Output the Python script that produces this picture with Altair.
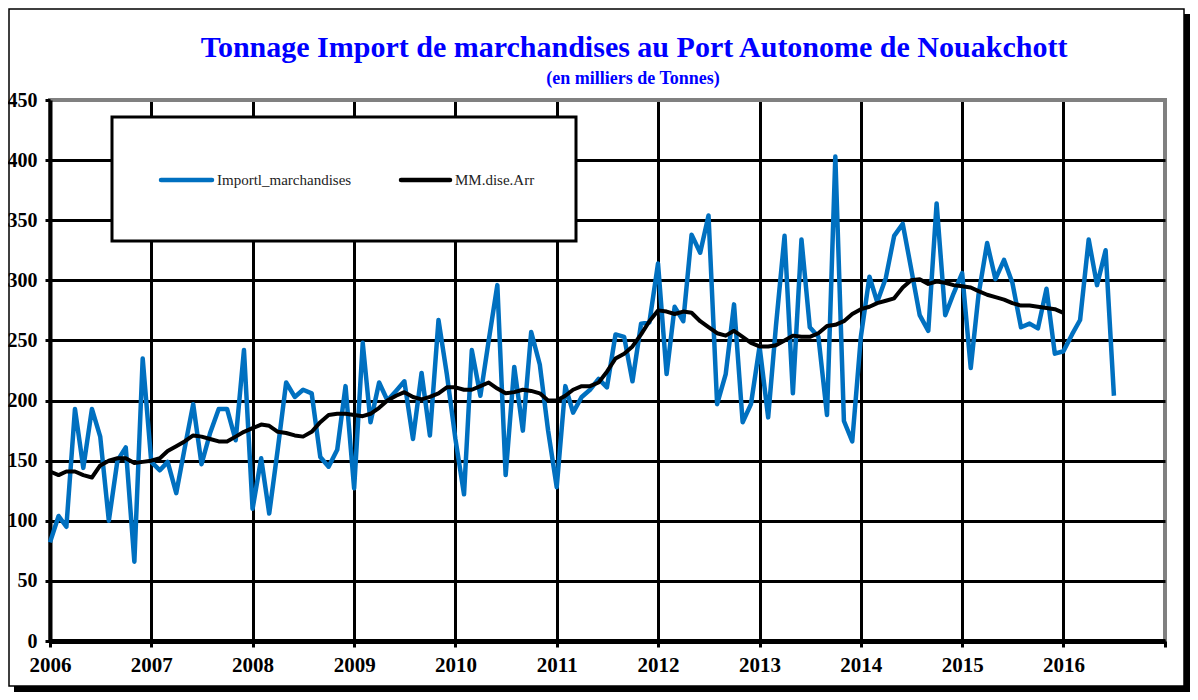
import altair as alt
import pandas as pd

# ---------------- data ----------------
SERIES = ["Importl_marchandises", "MM.dise.Arr"]
COLORS = ["#0070C0", "#000000"]
TITLE = "Tonnage Import de marchandises au Port Autonome de Nouakchott"
SUBTITLE = "(en milliers de Tonnes)"

YEARS = [2006, 2007, 2008, 2009, 2010, 2011, 2012, 2013, 2014, 2015, 2016]
Y_TICKS = [0, 50, 100, 150, 200, 250, 300, 350, 400, 450]

imp_2006 = [82, 104, 95, 193, 144, 193, 170, 100, 150, 161, 66, 235]
imp_2007 = [149, 142, 149, 123, 160, 197, 147, 173, 193, 193, 167, 242]
imp_2008 = [110, 152, 106, 160, 215, 203, 209, 206, 153, 145, 159, 212]
imp_2009 = [127, 248, 182, 215, 200, 208, 216, 168, 223, 171, 267, 222]
imp_2010 = [168, 122, 242, 204, 250, 296, 138, 228, 175, 257, 230, 175]
imp_2011 = [128, 212, 190, 203, 209, 218, 211, 255, 253, 216, 264, 265]
imp_2012 = [314, 222, 278, 266, 338, 323, 354, 197, 222, 280, 182, 197]
imp_2013 = [245, 186, 262, 337, 206, 334, 261, 253, 188, 403, 183, 166]
imp_2014 = [253, 303, 282, 302, 337, 347, 310, 271, 258, 364, 271, 289]
imp_2015 = [306, 227, 288, 331, 301, 317, 298, 261, 264, 260, 293, 239]
imp_2016 = [241, 255, 267, 334, 296, 325, 204]

ma_2006 = [141, 138, 141, 141, 138, 136, 146, 150, 152, 152, 148, 149]
ma_2007 = [150, 152, 158, 162, 166, 171, 170, 168, 166, 166, 170, 174]
ma_2008 = [177, 180, 179, 174, 173, 171, 170, 174, 182, 188, 189, 189]
ma_2009 = [188, 187, 189, 194, 200, 204, 207, 203, 201, 203, 206, 211]
ma_2010 = [211, 209, 209, 212, 215, 210, 206, 207, 209, 208, 206, 200]
ma_2011 = [200, 204, 209, 212, 212, 215, 224, 235, 239, 245, 255, 266]
ma_2012 = [275, 274, 272, 274, 273, 266, 261, 256, 254, 258, 253, 248]
ma_2013 = [245, 245, 246, 250, 254, 253, 253, 256, 262, 263, 266, 272]
ma_2014 = [276, 278, 281, 283, 285, 294, 300, 301, 297, 299, 298, 296]
ma_2015 = [295, 294, 291, 288, 286, 284, 281, 279, 279, 278, 277, 276]
ma_2016 = [273]

imports = [imp_2006, imp_2007, imp_2008, imp_2009, imp_2010, imp_2011,
           imp_2012, imp_2013, imp_2014, imp_2015, imp_2016]
mavg = [ma_2006, ma_2007, ma_2008, ma_2009, ma_2010, ma_2011,
        ma_2012, ma_2013, ma_2014, ma_2015, ma_2016]


def build(series_name, per_year):
    rows = []
    for yr, vals in zip(YEARS, per_year):
        for m, v in enumerate(vals):
            rows.append({"date": f"{yr}-{m + 1:02d}-01", "value": v, "series": series_name})
    return pd.DataFrame(rows)


imp_df = build(SERIES[0], imports)
ma_df = build(SERIES[1], mavg)

# ---------------- layout ----------------
W, H = 1115, 541
PAD = {"left": 42, "top": 92, "right": 25, "bottom": 51}
FONT = "Liberation Serif"

tick_dates = [alt.DateTime(year=y, month=1, date=1, utc=True) for y in YEARS + [2017]]

x_enc = alt.X(
    "date:T",
    scale=alt.Scale(type="utc", domain=[tick_dates[0], tick_dates[-1]]),
    axis=alt.Axis(
        values=tick_dates,
        title=None,
        labelExpr="utcyear(datum.value) < 2017 ? utcFormat(datum.value, '%Y') : ''",
        labelFont=FONT, labelFontWeight="bold", labelFontSize=21, labelColor="black",
        labelAngle=0, labelFlush=False, labelOverlap=False, labelPadding=7,
        tickColor="black", tickWidth=3, tickSize=6,
        domainColor="black", domainWidth=5,
        grid=True,
        gridColor=alt.condition("utcyear(datum.value) == 2017", alt.value("#808080"), alt.value("black")),
        gridWidth=3, gridOpacity=1,
    ),
)

y_enc = alt.Y(
    "value:Q",
    scale=alt.Scale(domain=[0, 450], nice=False),
    axis=alt.Axis(
        values=Y_TICKS,
        title=None,
        labelFont=FONT, labelFontWeight="bold", labelFontSize=20, labelColor="black",
        labelFlush=False, labelOverlap=False, labelPadding=8,
        tickColor="black", tickWidth=3, tickSize=5,
        domainColor="black", domainWidth=4,
        grid=True,
        gridColor=alt.condition("datum.value == 450", alt.value("#808080"), alt.value("black")),
        gridWidth=3, gridOpacity=1,
    ),
)

color_scale = alt.Scale(domain=SERIES, range=COLORS)

one = alt.Data(values=[{"k": 0}])

frame = alt.Chart(one).mark_rect(fill="transparent", stroke="black", strokeWidth=1.5).encode(
    x=alt.value(-41), x2=alt.value(1134), y=alt.value(-91), y2=alt.value(586)
)
shadow_r = alt.Chart(one).mark_rect(color="black").encode(
    x=alt.value(1134), x2=alt.value(1140), y=alt.value(-86), y2=alt.value(592)
)
shadow_b = alt.Chart(one).mark_rect(color="black").encode(
    x=alt.value(-36), x2=alt.value(1140), y=alt.value(586), y2=alt.value(592)
)

blue_line = alt.Chart(imp_df).mark_line(strokeWidth=4.5, strokeJoin="round").encode(
    x=x_enc, y=y_enc,
    color=alt.Color("series:N", scale=color_scale, legend=None),
)
ma_line = alt.Chart(ma_df).mark_line(strokeWidth=4, strokeJoin="round").encode(
    x=x_enc, y=y_enc,
    color=alt.Color("series:N", scale=color_scale, legend=None),
)

leg_box = alt.Chart(one).mark_rect(fill="white", stroke="black", strokeWidth=3).encode(
    x=alt.value(62), x2=alt.value(526), y=alt.value(17), y2=alt.value(141)
)
leg_blue = alt.Chart(one).mark_rule(color=COLORS[0], strokeWidth=4.5, strokeCap="round").encode(
    x=alt.value(111), x2=alt.value(162), y=alt.value(80)
)
leg_black = alt.Chart(one).mark_rule(color=COLORS[1], strokeWidth=4.5, strokeCap="round").encode(
    x=alt.value(351), x2=alt.value(400), y=alt.value(80)
)
leg_t1 = alt.Chart(one).mark_text(align="left", baseline="middle", font=FONT, fontSize=15, color="#222").encode(
    x=alt.value(167), y=alt.value(80), text=alt.value(SERIES[0])
)
leg_t2 = alt.Chart(one).mark_text(align="left", baseline="middle", font=FONT, fontSize=15, color="#222").encode(
    x=alt.value(405), y=alt.value(80), text=alt.value(SERIES[1])
)

title = alt.Chart(one).mark_text(align="center", baseline="alphabetic", font=FONT, fontWeight="bold",
                                 fontSize=30, color="#0000FF").encode(
    x=alt.value(584), y=alt.value(-43), text=alt.value(TITLE)
)
subtitle = alt.Chart(one).mark_text(align="center", baseline="alphabetic", font=FONT, fontWeight="bold",
                                    fontSize=18, color="#0000FF").encode(
    x=alt.value(583), y=alt.value(-16), text=alt.value(SUBTITLE)
)

chart = alt.layer(
    frame, shadow_r, shadow_b, blue_line, ma_line,
    leg_box, leg_blue, leg_black, leg_t1, leg_t2, title, subtitle,
).properties(
    width=W, height=H, padding=PAD,
    autosize=alt.AutoSizeParams(type="none"),
    background="white",
).configure_view(
    stroke="#808080", strokeWidth=4
)

chart.save("out.html", embed_options={"renderer": "svg", "actions": False})
